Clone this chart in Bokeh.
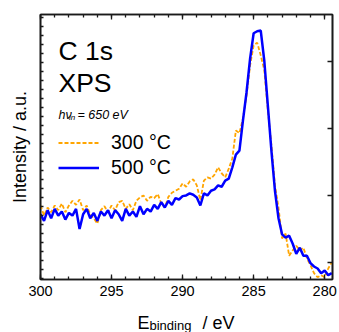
import numpy as np
from bokeh.plotting import figure
from bokeh.layouts import column
from bokeh.core.properties import value
from bokeh.models import (Range1d, LinearAxis, SingleIntervalTicker, FixedTicker,
                          Label, Legend, LegendItem, ColumnDataSource,
                          CustomLabelingPolicy)
from bokeh.embed import file_html
from bokeh.resources import INLINE

# ---------------- data ----------------
energy = [round(300 - 0.25 * i, 2) for i in range(83)]   # binding energy grid, eV

int_300C = [0.85, 0.70, 0.82, 0.75, 0.85, 0.78, 0.88, 0.75, 0.85, 0.92,
            0.86, 0.94, 0.78, 0.85, 0.72, 0.66, 0.58, 0.78, 0.84, 0.75,
            0.85, 0.78, 0.90, 0.92, 0.80, 0.87, 0.78, 0.92, 0.97, 1.00,
            0.92, 0.98, 0.96, 1.02, 0.88, 0.82, 0.98, 1.04, 1.07, 1.10,
            1.18, 1.13, 1.21, 1.24, 1.15, 0.93, 1.22, 1.27, 1.25, 1.31,
            1.42, 1.33, 1.27, 1.40, 1.55, 1.97, 1.93, 2.15, 2.49, 2.94,
            3.24, 3.28, 3.09, 2.87, 2.27, 1.75, 1.15, 0.82, 0.36, 0.43,
            0.10, 0.18, 0.25, 0.18, 0.22, 0.06, -0.04, -0.16, -0.22, -0.19,
            -0.22, -0.09, 0.00]

int_500C = [0.72, 0.62, 0.78, 0.66, 0.80, 0.70, 0.76, 0.64, 0.74, 0.70,
            0.80, 0.50, 0.72, 0.80, 0.66, 0.74, 0.62, 0.76, 0.70, 0.78,
            0.66, 0.78, 0.72, 0.62, 0.80, 0.70, 0.76, 0.68, 0.84, 0.72,
            0.80, 0.76, 0.86, 0.80, 0.90, 0.82, 0.92, 0.86, 0.96, 0.94,
            0.99, 1.00, 1.03, 1.01, 0.97, 0.85, 1.03, 1.00, 1.07, 1.09,
            1.15, 1.13, 1.22, 1.25, 1.42, 1.61, 1.67, 2.12, 2.54, 3.04,
            3.42, 3.45, 3.46, 3.01, 2.34, 1.67, 1.07, 0.66, 0.42, 0.37,
            0.40, 0.28, 0.13, 0.22, 0.10, 0.10, -0.01, -0.06, -0.09, -0.16,
            -0.12, -0.19, -0.16]

series_labels = ["300 °C", "500 °C"]
x_tick_interval = 5
right_ticks = [0, 1, 2, 3]

# ---------------- layout ----------------
W = 339
H1, H2 = 304, 28
BL, BT, BR = 40, 14, 7
BB = H1 - 279
X0, X1 = 300.0, 279.45
Y0, Y1 = -0.254, 3.70
FW = W - BL - BR
FH = H1 - BT - BB
FONT = "Liberation Sans"
INK = "#1a1a1a"


def dx(px):
    return X0 + (X1 - X0) * px / FW


def dy(py):
    return Y1 - (Y1 - Y0) * py / FH


def no_labels():
    return CustomLabelingPolicy(code="return []")


src = ColumnDataSource(dict(e=energy, a=int_300C, b=int_500C))

p = figure(width=W, height=H1, x_range=Range1d(X0, X1), y_range=Range1d(Y0, Y1),
           output_backend="svg", toolbar_location=None,
           x_axis_location=None, y_axis_location=None,
           min_border_left=BL, min_border_right=BR, min_border_top=BT,
           min_border_bottom=BB)
p.grid.visible = False
p.outline_line_color = INK
p.outline_line_width = 1.6
p.background_fill_color = "white"
p.border_fill_color = "white"

tick_style = dict(axis_line_color=INK, axis_line_width=1.6,
                  major_tick_line_color=INK, minor_tick_line_color=INK,
                  major_tick_line_width=1.3, minor_tick_line_width=1.3)

# bottom axis
xb = LinearAxis(ticker=SingleIntervalTicker(interval=x_tick_interval, num_minor_ticks=5),
                major_tick_in=5, major_tick_out=0, minor_tick_in=3, minor_tick_out=0,
                major_label_standoff=6, major_label_text_font=FONT,
                major_label_text_font_size="14.5px", major_label_text_color="black",
                **tick_style)
p.add_layout(xb, "below")

# top axis (ticks only)
xt = LinearAxis(ticker=SingleIntervalTicker(interval=x_tick_interval, num_minor_ticks=5),
                major_tick_in=5, major_tick_out=0, minor_tick_in=3, minor_tick_out=0,
                major_label_policy=no_labels(),
                major_label_text_font_size="0px", major_label_standoff=0, **tick_style)
p.add_layout(xt, "above")

# left axis (small ticks only)
left_ticks = [3.651 - 0.1339 * k for k in range(30)]
yl = LinearAxis(ticker=FixedTicker(ticks=left_ticks, minor_ticks=[]),
                major_tick_in=3, major_tick_out=0, minor_tick_in=0, minor_tick_out=0,
                major_label_policy=no_labels(),
                major_label_text_font_size="0px", major_label_standoff=0,
                axis_label="Intensity / a.u.", axis_label_text_font=FONT,
                axis_label_text_font_size="18px", axis_label_text_font_style="normal",
                axis_label_text_color="black", axis_label_standoff=11, **tick_style)
p.add_layout(yl, "left")

# right axis (major ticks only)
yr = LinearAxis(ticker=FixedTicker(ticks=right_ticks, minor_ticks=[]),
                major_tick_in=5, major_tick_out=0, minor_tick_in=0, minor_tick_out=0,
                major_label_policy=no_labels(),
                major_label_text_font_size="0px", major_label_standoff=0, **tick_style)
p.add_layout(yr, "right")

# spectra
r300 = p.line("e", "a", source=src, line_color="#FFA500", line_width=1.8, line_dash="4 2")
r500 = p.line("e", "b", source=src, line_color="#0000FF", line_width=2.5)

legend = Legend(items=[LegendItem(label=series_labels[0], renderers=[r300]),
                       LegendItem(label=series_labels[1], renderers=[r500])],
                location=(18, 99), glyph_width=41, glyph_height=25, label_height=25,
                label_standoff=12, spacing=0, padding=0, margin=0,
                border_line_color=None, background_fill_alpha=0,
                label_text_font=FONT, label_text_font_size="19.5px",
                label_text_color="black")
p.add_layout(legend)

# texts inside the frame
p.add_layout(Label(x=dx(18), y=dy(36), text="C 1s", text_font=FONT,
                   text_font_size="26.5px", text_baseline="alphabetic", text_color="black"))
p.add_layout(Label(x=dx(18), y=dy(68), text="XPS", text_font=FONT,
                   text_font_size="26.5px", text_baseline="alphabetic", text_color="black"))
p.add_layout(Label(x=dx(18), y=dy(100), text="hν", text_font=FONT,
                   text_font_size="12.5px", text_font_style="italic",
                   text_baseline="alphabetic", text_color="black"))
p.add_layout(Label(x=dx(28.5), y=dy(103), text="in", text_font=FONT,
                   text_font_size="8px", text_font_style="italic",
                   text_baseline="alphabetic", text_color="black"))
p.add_layout(Label(x=dx(37), y=dy(100), text="= 650 eV", text_font=FONT,
                   text_font_size="12.5px", text_font_style="italic",
                   text_baseline="alphabetic", text_color="black"))

# ---------------- x-axis title strip (E_binding / eV) ----------------
# frame aligned with the main plot's frame; data units = page pixels
q = figure(width=W, height=H2, x_range=Range1d(BL, W - BR), y_range=Range1d(0, H2),
           output_backend="svg", toolbar_location=None,
           x_axis_location=None, y_axis_location=None,
           min_border_left=BL, min_border_right=BR, min_border_top=0, min_border_bottom=0)
q.grid.visible = False
q.outline_line_color = None
q.background_fill_color = "white"
q.border_fill_color = "white"


def qy(page_y):
    return H1 + H2 - page_y


q.text(x=[137], y=[qy(322)], text=["E"], text_font=value(FONT), text_font_size="18px",
       text_baseline="alphabetic", text_align="left", text_color="black")
q.text(x=[149], y=[qy(325)], text=["binding"], text_font=value(FONT), text_font_size="13px",
       text_baseline="alphabetic", text_align="left", text_color="black")
q.text(x=[202], y=[qy(322)], text=["/ eV"], text_font=value(FONT), text_font_size="18px",
       text_baseline="alphabetic", text_align="left", text_color="black")

layout = column(p, q, spacing=0)
open("out.html", "w").write(file_html(layout, INLINE))
